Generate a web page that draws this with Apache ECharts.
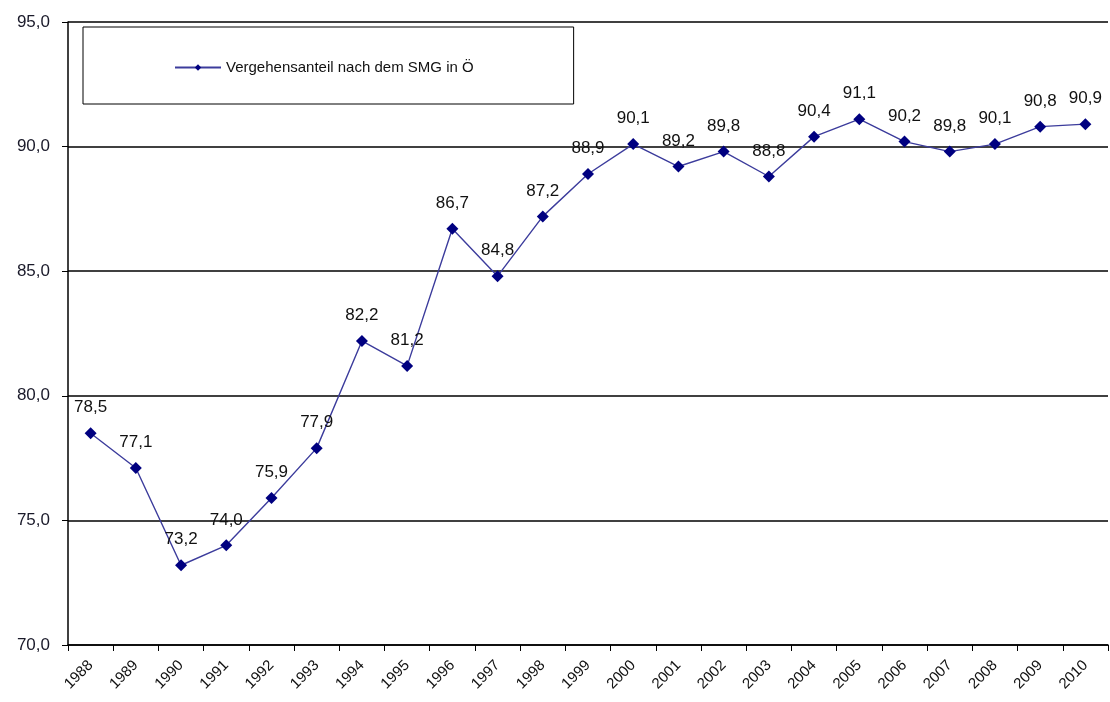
<!DOCTYPE html>
<html lang="de">
<head>
    <meta charset="UTF-8">
    <title>Vergehensanteil nach dem SMG</title>
    <script src="https://cdn.jsdelivr.net/npm/echarts@6/dist/echarts.min.js"></script>
    <style>
        html, body { margin: 0; padding: 0; background: #fff; }
    </style>
</head>
<body>

    <div id="main" style="width: 1110px;height:702px;"></div>

    <script type="text/javascript">
        // Daten
        var years = ['1988', '1989', '1990', '1991', '1992', '1993', '1994', '1995', '1996', '1997', '1998', '1999',
                     '2000', '2001', '2002', '2003', '2004', '2005', '2006', '2007', '2008', '2009', '2010'];
        var anteil = [78.5, 77.1, 73.2, 74.0, 75.9, 77.9, 82.2, 81.2, 86.7, 84.8, 87.2, 88.9,
                      90.1, 89.2, 89.8, 88.8, 90.4, 91.1, 90.2, 89.8, 90.1, 90.8, 90.9];
        var seriesName = 'Vergehensanteil nach dem SMG in Ö';

        // Dezimalkomma wie im Original
        function komma(v) {
            return Number(v).toFixed(1).replace('.', ',');
        }

        var myChart = echarts.init(document.getElementById('main'));

        var option = {
            animation: false,
            textStyle: { fontFamily: 'Arial, "Liberation Sans", sans-serif' },
            grid: { left: 68, right: 2, top: 22, bottom: 57 },
            legend: {
                data: [seriesName],
                left: 83,
                top: 27,
                padding: [33, 100, 29, 91],
                borderColor: '#000',
                borderWidth: 1,
                itemWidth: 46,
                itemHeight: 8,
                itemGap: 5,
                textStyle: { fontSize: 15, color: '#111' }
            },
            xAxis: {
                type: 'category',
                data: years,
                boundaryGap: true,
                axisLine: { lineStyle: { color: '#000', width: 1.5 } },
                axisTick: { show: true, length: 6, lineStyle: { color: '#000' } },
                axisLabel: { interval: 0, rotate: 45, fontSize: 15, color: '#111', margin: 18 },
                splitLine: { show: false }
            },
            yAxis: {
                type: 'value',
                min: 70,
                max: 95,
                interval: 5,
                axisLine: { show: true, lineStyle: { color: '#000', width: 1.5 } },
                axisTick: { show: true, length: 6, lineStyle: { color: '#000' } },
                axisLabel: { fontSize: 17, color: '#1a1a2a', margin: 18, formatter: komma },
                splitLine: { lineStyle: { color: '#000', width: 1.5 } }
            },
            series: [{
                name: seriesName,
                type: 'line',
                data: anteil,
                symbol: 'diamond',
                symbolSize: 12,
                itemStyle: { color: '#000080' },
                lineStyle: { color: '#3c3c9c', width: 1.4 },
                label: {
                    show: true,
                    position: 'top',
                    distance: 11,
                    fontSize: 17,
                    color: '#111',
                    formatter: function (p) { return komma(p.value); }
                }
            }]
        };

        myChart.setOption(option);
    </script>
</body>
</html>
